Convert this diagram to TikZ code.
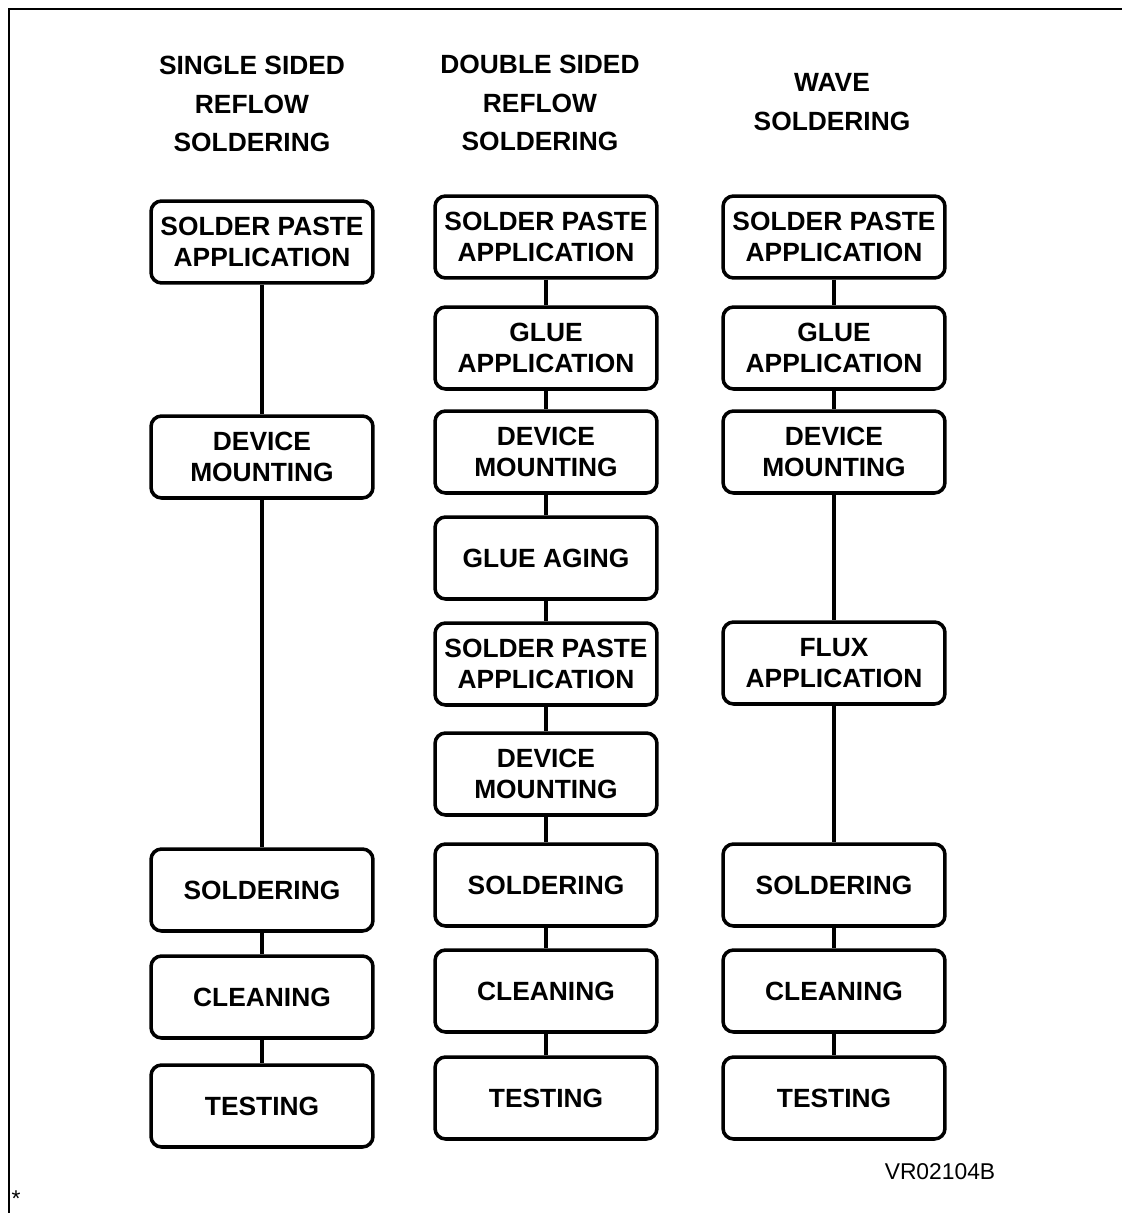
\documentclass[tikz,border=0pt]{standalone}
\usepackage{fontspec}
\setmainfont{Liberation Sans}
\usetikzlibrary{positioning}

\begin{document}
\begin{tikzpicture}[
  x=0.02cm, y=-0.02cm,
  proc/.style={rectangle, rounded corners=6pt, draw=black, line width=2pt,
               minimum width=4.44cm, minimum height=1.64cm, inner sep=1pt,
               align=center, font=\fontsize{15}{17.6}\selectfont\bfseries},
  head/.style={align=center, font=\fontsize{15}{22}\selectfont\bfseries},
  link/.style={line width=2pt},
  frame/.style={line width=1.1pt},
  tag/.style={font=\fontsize{13}{15}\selectfont}
]
\useasboundingbox (0,0) rectangle (1122,1213);

% Outer frame
\draw[frame] (9,1213) -- (9,9) -- (1122,9);

% Column headers
\node[head] (h1) at (252,104) {SINGLE SIDED\\REFLOW\\SOLDERING};
\node[head] (h2) at (540,103) {DOUBLE SIDED\\REFLOW\\SOLDERING};
\node[head] (h3) at (832,102) {WAVE\\SOLDERING};

% Single sided reflow
\node[proc] (s1) at (262,242) {SOLDER PASTE\\APPLICATION};
\node[proc] (s2) at (262,457) {DEVICE\\MOUNTING};
\node[proc] (s3) at (262,890) {SOLDERING};
\node[proc] (s4) at (262,997) {CLEANING};
\node[proc] (s5) at (262,1106) {TESTING};

% Double sided reflow
\node[proc] (d1) at (546,237) {SOLDER PASTE\\APPLICATION};
\node[proc] (d2) at (546,348) {GLUE\\APPLICATION};
\node[proc] (d3) at (546,452) {DEVICE\\MOUNTING};
\node[proc] (d4) at (546,558) {GLUE AGING};
\node[proc] (d5) at (546,664) {SOLDER PASTE\\APPLICATION};
\node[proc] (d6) at (546,774) {DEVICE\\MOUNTING};
\node[proc] (d7) at (546,885) {SOLDERING};
\node[proc] (d8) at (546,991) {CLEANING};
\node[proc] (d9) at (546,1098) {TESTING};

% Wave soldering
\node[proc] (w1) at (834,237) {SOLDER PASTE\\APPLICATION};
\node[proc] (w2) at (834,348) {GLUE\\APPLICATION};
\node[proc] (w3) at (834,452) {DEVICE\\MOUNTING};
\node[proc] (w4) at (834,663) {FLUX\\APPLICATION};
\node[proc] (w5) at (834,885) {SOLDERING};
\node[proc] (w6) at (834,991) {CLEANING};
\node[proc] (w7) at (834,1098) {TESTING};

% Flow lines
\draw[link] (s1) -- (s2);
\draw[link] (s2) -- (s3);
\draw[link] (s3) -- (s4);
\draw[link] (s4) -- (s5);

\draw[link] (d1) -- (d2);
\draw[link] (d2) -- (d3);
\draw[link] (d3) -- (d4);
\draw[link] (d4) -- (d5);
\draw[link] (d5) -- (d6);
\draw[link] (d6) -- (d7);
\draw[link] (d7) -- (d8);
\draw[link] (d8) -- (d9);

\draw[link] (w1) -- (w2);
\draw[link] (w2) -- (w3);
\draw[link] (w3) -- (w4);
\draw[link] (w4) -- (w5);
\draw[link] (w5) -- (w6);
\draw[link] (w6) -- (w7);

% Figure code
\node[tag] (code) at (940,1172) {VR02104B};
\node[tag] (star) at (16,1199) {*};

\end{tikzpicture}
\end{document}
